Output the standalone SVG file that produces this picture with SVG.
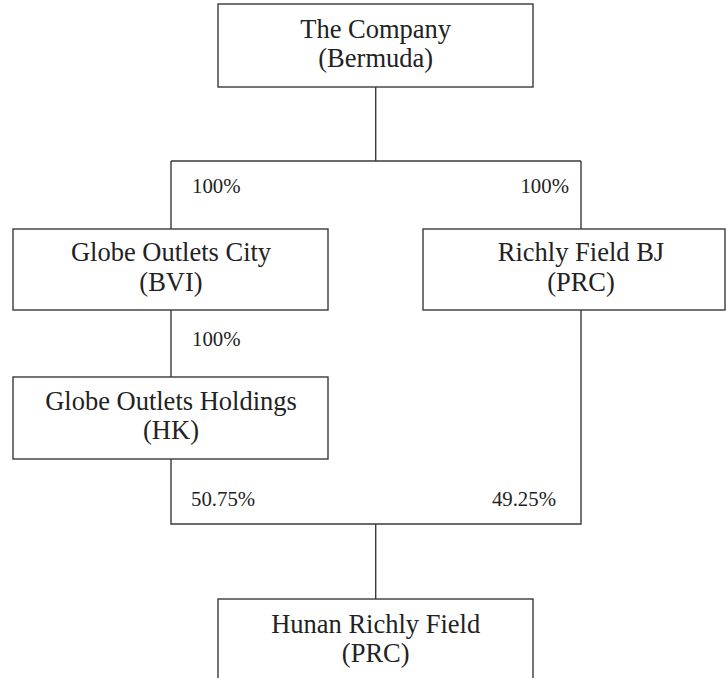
<svg xmlns="http://www.w3.org/2000/svg" width="726" height="678" viewBox="0 0 726 678">
<style>
.box{fill:#fff;stroke:#3a3a3a;stroke-width:1.4}
.ln{fill:none;stroke:#3a3a3a;stroke-width:1.4}
.t{font-size:26.5px;fill:#222;text-anchor:middle}
.p{font-size:20.8px;fill:#222}
</style>
<rect width="726" height="678" fill="#fff"/>
<g font-family="Liberation Serif, Times New Roman, serif">
<g id="connectors">
<path class="ln" d="M375.7 87V161M171 161H581M171 161V229M581 161V229M171 310V377M171 459V524H581V310M375.7 524V599"/>
<text class="p" x="192" y="193">100%</text>
<text class="p" x="569" y="193" text-anchor="end">100%</text>
<text class="p" x="192" y="346">100%</text>
<text class="p" x="191" y="506">50.75%</text>
<text class="p" x="556" y="506" text-anchor="end">49.25%</text>
</g>
<g id="company">
<rect class="box" x="218" y="4" width="315" height="83"/>
<text class="t" x="375.7" y="37.5">The Company</text>
<text class="t" x="375.7" y="66.5">(Bermuda)</text>
</g>
<g id="globe-city">
<rect class="box" x="13" y="229" width="315" height="81"/>
<text class="t" x="171" y="261">Globe Outlets City</text>
<text class="t" x="171" y="290.5">(BVI)</text>
</g>
<g id="richly-bj">
<rect class="box" x="423" y="229" width="302" height="81"/>
<text class="t" x="581" y="261">Richly Field BJ</text>
<text class="t" x="581" y="290.5">(PRC)</text>
</g>
<g id="globe-holdings">
<rect class="box" x="13" y="377" width="315" height="82"/>
<text class="t" x="171" y="409.5">Globe Outlets Holdings</text>
<text class="t" x="171" y="439">(HK)</text>
</g>
<g id="hunan">
<rect class="box" x="218" y="599" width="315" height="100"/>
<text class="t" x="375.7" y="633">Hunan Richly Field</text>
<text class="t" x="375.7" y="662">(PRC)</text>
</g>
</g>
</svg>
